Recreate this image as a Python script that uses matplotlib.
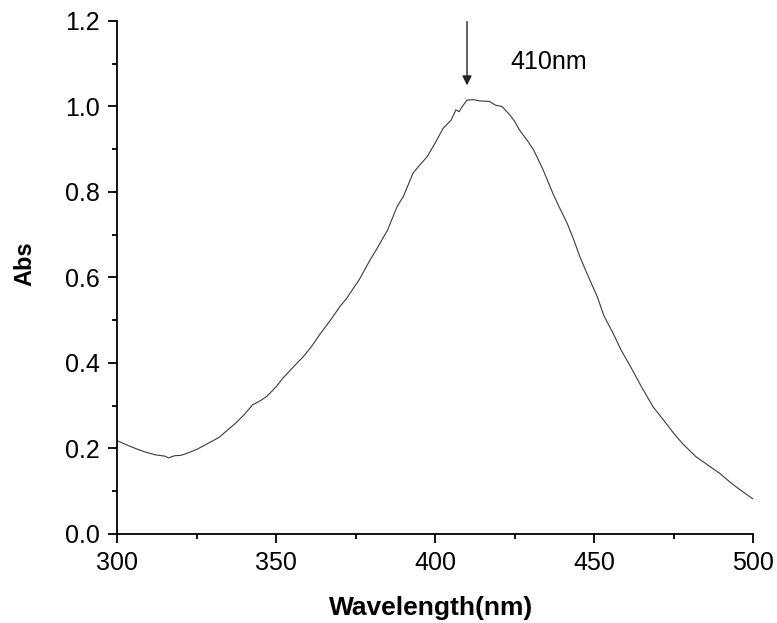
# UV-Vis absorbance spectrum
import matplotlib
matplotlib.use('Agg')
import matplotlib.pyplot as plt
from matplotlib.ticker import MultipleLocator

plt.rcParams['font.family'] = ['Liberation Sans', 'DejaVu Sans']

# ----------------------------------------------------------------
# Data
wavelength = [300, 303, 306, 309, 312, 315, 316, 318, 320, 322, 325, 327, 329,
              332, 334, 337, 340, 342.5, 345, 347, 350, 352, 355, 358.5, 361,
              363.5, 367, 370, 372, 376, 379.5, 382, 385, 388, 390, 393, 395,
              397.5, 400, 402.5, 405, 406.5, 407.5, 408.5, 410, 412, 414, 417,
              419, 421, 423.5, 425, 426.5, 429, 431, 434, 437, 439, 441.5,
              443.5, 445.5, 448, 451, 453, 456, 458.5, 461.5, 465, 468.5, 472,
              475, 478, 482, 486, 489.5, 493, 496, 500]
absorbance = [0.218, 0.208, 0.199, 0.191, 0.185, 0.182, 0.178, 0.183, 0.184,
              0.189, 0.198, 0.206, 0.214, 0.226, 0.239, 0.258, 0.280, 0.302,
              0.312, 0.322, 0.345, 0.364, 0.388, 0.415, 0.438, 0.465, 0.500,
              0.532, 0.550, 0.594, 0.641, 0.672, 0.711, 0.766, 0.790, 0.844,
              0.862, 0.883, 0.915, 0.949, 0.968, 0.992, 0.988, 1.000, 1.015,
              1.016, 1.013, 1.012, 1.003, 1.000, 0.980, 0.965, 0.945, 0.920,
              0.898, 0.851, 0.797, 0.765, 0.727, 0.690, 0.649, 0.605, 0.555,
              0.512, 0.469, 0.430, 0.391, 0.343, 0.298, 0.265, 0.236, 0.210,
              0.181, 0.160, 0.142, 0.120, 0.103, 0.082]

peak_wl = 410
peak_label = '410nm'

# ----------------------------------------------------------------
# Plot
fig = plt.figure(figsize=(7.77, 6.23), dpi=100)
ax = fig.add_axes([0.1512, 0.1429, 0.8179, 0.8234])

ax.plot(wavelength, absorbance, color='#3a3a3a', lw=0.8)

ax.set_xlim(300, 500)
ax.set_ylim(0, 1.2)
ax.xaxis.set_major_locator(MultipleLocator(50))
ax.xaxis.set_minor_locator(MultipleLocator(25))
ax.yaxis.set_major_locator(MultipleLocator(0.2))
ax.yaxis.set_minor_locator(MultipleLocator(0.1))
ax.yaxis.set_major_formatter(plt.FormatStrFormatter('%.1f'))

for s in ['top', 'right']:
    ax.spines[s].set_visible(False)
for s in ['left', 'bottom']:
    ax.spines[s].set_linewidth(1.3)

ax.tick_params(which='major', direction='out', length=6.5, width=1.3, labelsize=18)
ax.tick_params(axis='x', which='major', pad=6)
ax.tick_params(axis='y', which='major', pad=6)
ax.tick_params(which='minor', direction='out', length=3.4, width=1.3)

# axis titles
fig.text(0.5543, 1 - 608 / 623, 'Wavelength(nm)', fontsize=19, fontweight='bold',
         ha='center', va='center')
fig.text(25 / 777, 1 - 264 / 623, 'Abs', fontsize=17, fontweight='bold',
         ha='center', va='center', rotation=90)

# peak arrow
ax.annotate('', xy=(peak_wl, 1.043), xytext=(peak_wl, 1.205),
            arrowprops=dict(arrowstyle='-|>', color='#222222', lw=1.0,
                            mutation_scale=14),
            annotation_clip=False)
ax.text(423.5, 1.104, peak_label, fontsize=18, va='center', ha='left')

fig.savefig('out.png', dpi=100)
